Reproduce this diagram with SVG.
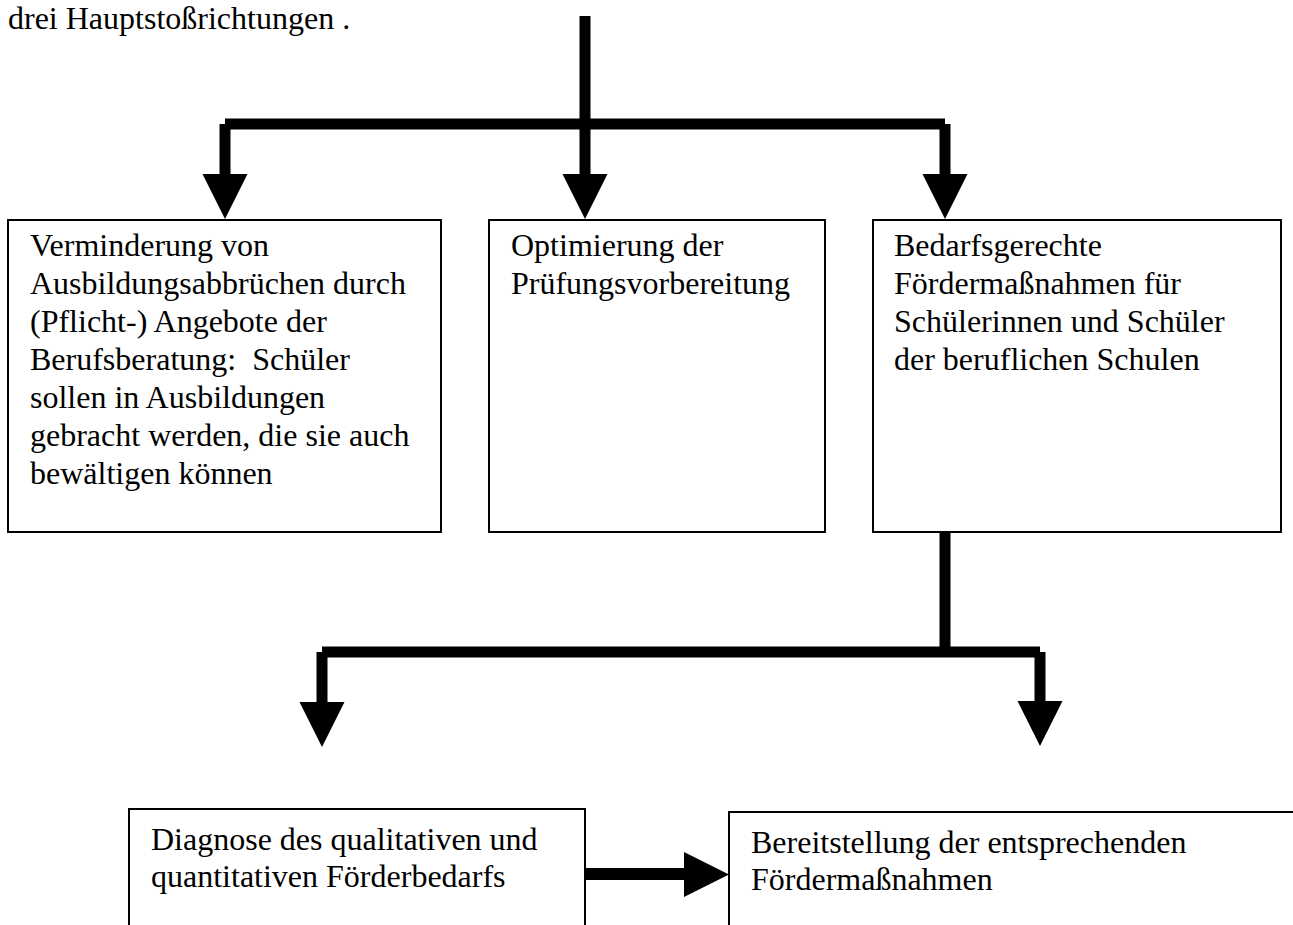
<svg xmlns="http://www.w3.org/2000/svg" width="1293" height="925" viewBox="0 0 1293 925">
<style>
  .t { font-family: "Liberation Serif", "Times New Roman", serif; font-size: 32px; fill: #000; white-space: pre; }
  .box { fill: #fff; stroke: #000; stroke-width: 2; }
  .ln { stroke: #000; stroke-width: 11; fill: none; stroke-linecap: butt; }
  .hd { fill: #000; stroke: none; }
</style>
<rect width="1293" height="925" fill="#fff"/>
<text class="t" x="8" y="29">drei Hauptstoßrichtungen .</text>

<g id="connectors">
  <line class="ln" x1="585" y1="16" x2="585" y2="175"/>
  <line class="ln" x1="225" y1="124" x2="945" y2="124"/>
  <line class="ln" x1="225" y1="124" x2="225" y2="175"/>
  <line class="ln" x1="945" y1="124" x2="945" y2="175"/>
  <polygon class="hd" points="202.5,174 247.5,174 225,219"/>
  <polygon class="hd" points="562.5,174 607.5,174 585,219"/>
  <polygon class="hd" points="922.5,174 967.5,174 945,219"/>

  <line class="ln" x1="945" y1="532" x2="945" y2="652"/>
  <line class="ln" x1="322" y1="652" x2="1040" y2="652"/>
  <line class="ln" x1="322" y1="652" x2="322" y2="703"/>
  <line class="ln" x1="1040" y1="652" x2="1040" y2="702"/>
  <polygon class="hd" points="299.5,702 344.5,702 322,747"/>
  <polygon class="hd" points="1017.5,701 1062.5,701 1040,746"/>

  <line class="ln" style="stroke-width:12" x1="585" y1="874" x2="685" y2="874"/>
  <polygon class="hd" points="684,852 684,897 729,874.5"/>
</g>

<g id="node1">
  <rect class="box" x="8" y="220" width="433" height="312"/>
  <text class="t" x="30" y="256">Verminderung von</text>
  <text class="t" x="30" y="294">Ausbildungsabbrüchen durch</text>
  <text class="t" x="30" y="332">(Pflicht-) Angebote der</text>
  <text class="t" x="30" y="370">Berufsberatung:  Schüler</text>
  <text class="t" x="30" y="408">sollen in Ausbildungen</text>
  <text class="t" x="30" y="446">gebracht werden, die sie auch</text>
  <text class="t" x="30" y="484">bewältigen können</text>
</g>

<g id="node2">
  <rect class="box" x="489" y="220" width="336" height="312"/>
  <text class="t" x="511" y="256">Optimierung der</text>
  <text class="t" x="511" y="294">Prüfungsvorbereitung</text>
</g>

<g id="node3">
  <rect class="box" x="873" y="220" width="408" height="312"/>
  <text class="t" x="894" y="256">Bedarfsgerechte</text>
  <text class="t" x="894" y="294">Fördermaßnahmen für</text>
  <text class="t" x="894" y="332">Schülerinnen und Schüler</text>
  <text class="t" x="894" y="370">der beruflichen Schulen</text>
</g>

<g id="node4">
  <rect class="box" x="129" y="809" width="456" height="140"/>
  <text class="t" x="151" y="850">Diagnose des qualitativen und</text>
  <text class="t" x="151" y="887">quantitativen Förderbedarfs</text>
</g>

<g id="node5">
  <rect class="box" x="729" y="812" width="600" height="140"/>
  <text class="t" x="751" y="853">Bereitstellung der entsprechenden</text>
  <text class="t" x="751" y="890">Fördermaßnahmen</text>
</g>
</svg>
